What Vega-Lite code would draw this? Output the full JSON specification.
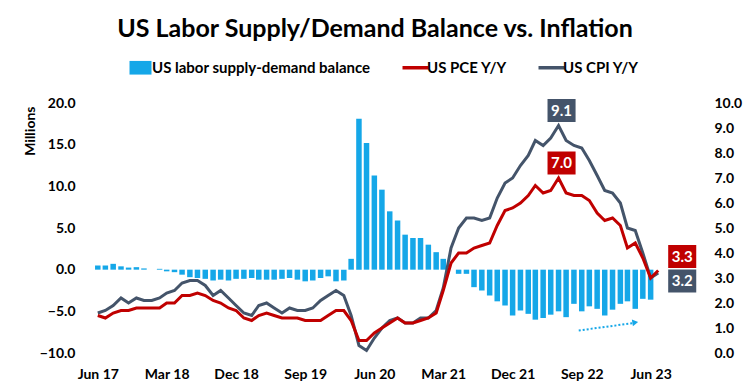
{
  "$schema": "https://vega.github.io/schema/vega-lite/v6.json",
  "width": 578,
  "height": 250,
  "autosize": {"type": "none"},
  "padding": {"left": 89, "top": 103, "right": 87, "bottom": 38},
  "background": "white",
  "config": {
    "font": "Lato",
    "view": {"stroke": null},
    "axisY": {"grid": false, "domain": false, "ticks": false, "labelOverlap": false, "labelFont": "Lato", "labelFontSize": 14, "labelFontWeight": "bold", "labelColor": "#000000"}
  },
  "title": {"text": "US Labor Supply/Demand Balance vs. Inflation", "font": "Lato", "fontSize": 25, "fontWeight": "bold", "color": "#000000", "anchor": "middle", "frame": "group", "dx": -3, "offset": 18},
  "datasets": {
    "main": [
      {"date": "2017-06-01", "balance": 0.5, "pce": 1.5, "cpi": 1.6},
      {"date": "2017-07-01", "balance": 0.5, "pce": 1.4, "cpi": 1.7},
      {"date": "2017-08-01", "balance": 0.7, "pce": 1.6, "cpi": 1.9},
      {"date": "2017-09-01", "balance": 0.4, "pce": 1.7, "cpi": 2.2},
      {"date": "2017-10-01", "balance": 0.25, "pce": 1.7, "cpi": 2.0},
      {"date": "2017-11-01", "balance": 0.3, "pce": 1.8, "cpi": 2.2},
      {"date": "2017-12-01", "balance": 0.15, "pce": 1.8, "cpi": 2.1},
      {"date": "2018-01-01", "balance": 0.0, "pce": 1.8, "cpi": 2.1},
      {"date": "2018-02-01", "balance": 0.1, "pce": 1.8, "cpi": 2.2},
      {"date": "2018-03-01", "balance": -0.2, "pce": 2.0, "cpi": 2.4},
      {"date": "2018-04-01", "balance": -0.3, "pce": 2.0, "cpi": 2.5},
      {"date": "2018-05-01", "balance": -0.6, "pce": 2.3, "cpi": 2.8},
      {"date": "2018-06-01", "balance": -0.9, "pce": 2.3, "cpi": 2.9},
      {"date": "2018-07-01", "balance": -1.0, "pce": 2.4, "cpi": 2.9},
      {"date": "2018-08-01", "balance": -1.1, "pce": 2.3, "cpi": 2.7},
      {"date": "2018-09-01", "balance": -1.3, "pce": 2.1, "cpi": 2.3},
      {"date": "2018-10-01", "balance": -1.2, "pce": 2.0, "cpi": 2.5},
      {"date": "2018-11-01", "balance": -1.3, "pce": 1.8, "cpi": 2.2},
      {"date": "2018-12-01", "balance": -1.1, "pce": 1.7, "cpi": 1.9},
      {"date": "2019-01-01", "balance": -1.1, "pce": 1.4, "cpi": 1.6},
      {"date": "2019-02-01", "balance": -1.0, "pce": 1.3, "cpi": 1.5},
      {"date": "2019-03-01", "balance": -1.2, "pce": 1.5, "cpi": 1.9},
      {"date": "2019-04-01", "balance": -1.2, "pce": 1.6, "cpi": 2.0},
      {"date": "2019-05-01", "balance": -1.2, "pce": 1.5, "cpi": 1.8},
      {"date": "2019-06-01", "balance": -1.1, "pce": 1.4, "cpi": 1.6},
      {"date": "2019-07-01", "balance": -1.0, "pce": 1.4, "cpi": 1.8},
      {"date": "2019-08-01", "balance": -1.2, "pce": 1.4, "cpi": 1.7},
      {"date": "2019-09-01", "balance": -1.4, "pce": 1.3, "cpi": 1.7},
      {"date": "2019-10-01", "balance": -1.3, "pce": 1.3, "cpi": 1.8},
      {"date": "2019-11-01", "balance": -1.0, "pce": 1.3, "cpi": 2.1},
      {"date": "2019-12-01", "balance": -0.8, "pce": 1.5, "cpi": 2.3},
      {"date": "2020-01-01", "balance": -1.4, "pce": 1.7, "cpi": 2.5},
      {"date": "2020-02-01", "balance": -1.3, "pce": 1.7, "cpi": 2.3},
      {"date": "2020-03-01", "balance": 1.3, "pce": 1.3, "cpi": 1.5},
      {"date": "2020-04-01", "balance": 18.1, "pce": 0.5, "cpi": 0.3},
      {"date": "2020-05-01", "balance": 15.2, "pce": 0.5, "cpi": 0.1},
      {"date": "2020-06-01", "balance": 11.3, "pce": 0.8, "cpi": 0.6},
      {"date": "2020-07-01", "balance": 9.6, "pce": 1.0, "cpi": 1.0},
      {"date": "2020-08-01", "balance": 7.0, "pce": 1.2, "cpi": 1.3},
      {"date": "2020-09-01", "balance": 5.9, "pce": 1.4, "cpi": 1.4},
      {"date": "2020-10-01", "balance": 4.2, "pce": 1.2, "cpi": 1.2},
      {"date": "2020-11-01", "balance": 3.8, "pce": 1.2, "cpi": 1.2},
      {"date": "2020-12-01", "balance": 3.8, "pce": 1.3, "cpi": 1.4},
      {"date": "2021-01-01", "balance": 3.0, "pce": 1.4, "cpi": 1.4},
      {"date": "2021-02-01", "balance": 2.1, "pce": 1.6, "cpi": 1.7},
      {"date": "2021-03-01", "balance": 1.3, "pce": 2.5, "cpi": 2.6},
      {"date": "2021-04-01", "balance": 0.0, "pce": 3.6, "cpi": 4.2},
      {"date": "2021-05-01", "balance": -0.5, "pce": 4.0, "cpi": 5.0},
      {"date": "2021-06-01", "balance": -0.5, "pce": 4.0, "cpi": 5.4},
      {"date": "2021-07-01", "balance": -2.1, "pce": 4.2, "cpi": 5.4},
      {"date": "2021-08-01", "balance": -2.5, "pce": 4.3, "cpi": 5.3},
      {"date": "2021-09-01", "balance": -3.1, "pce": 4.4, "cpi": 5.4},
      {"date": "2021-10-01", "balance": -3.8, "pce": 5.1, "cpi": 6.2},
      {"date": "2021-11-01", "balance": -4.3, "pce": 5.7, "cpi": 6.8},
      {"date": "2021-12-01", "balance": -5.5, "pce": 5.8, "cpi": 7.0},
      {"date": "2022-01-01", "balance": -4.9, "pce": 6.0, "cpi": 7.5},
      {"date": "2022-02-01", "balance": -5.3, "pce": 6.3, "cpi": 7.9},
      {"date": "2022-03-01", "balance": -6.0, "pce": 6.7, "cpi": 8.5},
      {"date": "2022-04-01", "balance": -5.8, "pce": 6.4, "cpi": 8.3},
      {"date": "2022-05-01", "balance": -5.4, "pce": 6.5, "cpi": 8.6},
      {"date": "2022-06-01", "balance": -5.0, "pce": 7.0, "cpi": 9.1},
      {"date": "2022-07-01", "balance": -5.7, "pce": 6.4, "cpi": 8.5},
      {"date": "2022-08-01", "balance": -4.1, "pce": 6.3, "cpi": 8.3},
      {"date": "2022-09-01", "balance": -5.0, "pce": 6.3, "cpi": 8.2},
      {"date": "2022-10-01", "balance": -4.4, "pce": 6.1, "cpi": 7.7},
      {"date": "2022-11-01", "balance": -4.7, "pce": 5.6, "cpi": 7.1},
      {"date": "2022-12-01", "balance": -5.5, "pce": 5.3, "cpi": 6.5},
      {"date": "2023-01-01", "balance": -4.8, "pce": 5.4, "cpi": 6.4},
      {"date": "2023-02-01", "balance": -4.1, "pce": 5.1, "cpi": 6.0},
      {"date": "2023-03-01", "balance": -3.8, "pce": 4.2, "cpi": 5.0},
      {"date": "2023-04-01", "balance": -4.7, "pce": 4.4, "cpi": 4.9},
      {"date": "2023-05-01", "balance": -3.5, "pce": 3.8, "cpi": 4.0},
      {"date": "2023-06-01", "balance": -3.6, "pce": 3.0, "cpi": 3.0},
      {"date": "2023-07-01", "balance": null, "pce": 3.3, "cpi": 3.2}
    ],
    "arrow": [
      {"date": "2022-08-20", "v": -7.3},
      {"date": "2023-03-26", "v": -6.4}
    ],
    "arrowhead": [
      {"date": "2023-04-01", "v": -6.33}
    ],
    "labels": [
      {"date": "2022-06-01", "v": 9.1, "t": "9.1", "s": "cpi"},
      {"date": "2022-06-01", "v": 7.0, "t": "7.0", "s": "pce"},
      {"date": "2023-07-01", "v": 3.3, "t": "3.3", "s": "pce"},
      {"date": "2023-07-01", "v": 3.2, "t": "3.2", "s": "cpi"}
    ]
  },
  "encoding": {
    "x": {
      "field": "date", "type": "temporal",
      "scale": {"type": "utc", "domain": [{"year": 2017, "month": 5, "date": 17, "utc": true}, {"year": 2023, "month": 7, "date": 16, "utc": true}]},
      "axis": {
        "values": [
          {"year": 2017, "month": 6, "date": 1, "utc": true},
          {"year": 2018, "month": 3, "date": 1, "utc": true},
          {"year": 2018, "month": 12, "date": 1, "utc": true},
          {"year": 2019, "month": 9, "date": 1, "utc": true},
          {"year": 2020, "month": 6, "date": 1, "utc": true},
          {"year": 2021, "month": 3, "date": 1, "utc": true},
          {"year": 2021, "month": 12, "date": 1, "utc": true},
          {"year": 2022, "month": 9, "date": 1, "utc": true},
          {"year": 2023, "month": 6, "date": 1, "utc": true}
        ],
        "labelExpr": "utcFormat(datum.value, '%b %y')",
        "title": null, "domain": false, "ticks": false, "grid": false,
        "labelFont": "Lato", "labelFontSize": 14, "labelFontWeight": "bold", "labelColor": "#000000",
        "labelPadding": 14, "labelFlush": false, "labelOverlap": false
      }
    }
  },
  "layer": [
    {
      "layer": [
        {
          "data": {"name": "main"},
          "mark": {"type": "rule", "color": "#D9D9D9", "strokeWidth": 1},
          "encoding": {"y": {"datum": 0, "type": "quantitative"}}
        },
        {
          "data": {"name": "main"},
          "mark": {"type": "bar", "size": 5.5},
          "encoding": {
            "y": {
              "field": "balance", "type": "quantitative",
              "scale": {"domain": [-10, 20], "nice": false, "zero": false},
              "axis": {
                "orient": "left", "values": [-10, -5, 0, 5, 10, 15, 20], "format": ".1f", "labelPadding": 14,
                "title": "Millions", "titleFont": "Lato", "titleFontSize": 14, "titleFontWeight": "bold", "titleColor": "#000000",
                "titleAngle": -90, "titleX": -59, "titleY": 3, "titleAlign": "right", "titleBaseline": "middle"
              }
            },
            "color": {
              "datum": "US labor supply-demand balance", "type": "nominal",
              "scale": {"domain": ["US labor supply-demand balance", "US PCE Y/Y", "US CPI Y/Y"], "range": ["#15A7E8", "#C00000", "#44546A"]},
              "legend": {
                "orient": "none", "legendX": 44, "legendY": -43, "direction": "horizontal", "title": null,
                "labelFont": "Lato", "labelFontSize": 15, "labelFontWeight": "bold", "labelColor": "#000000", "labelLimit": 400,
                "columnPadding": 24, "symbolSize": 500, "labelOffset": 4,
                "encode": {
                  "symbols": {
                    "update": {
                      "shape": {"signal": "datum.value == 'US labor supply-demand balance' ? 'M-1,-0.62H1V0.62H-1Z' : 'stroke'"},
                      "size": {"signal": "datum.value == 'US labor supply-demand balance' ? 484 : 676"},
                      "fill": {"scale": "color", "field": "value"},
                      "stroke": {"scale": "color", "field": "value"},
                      "strokeWidth": {"signal": "datum.value == 'US labor supply-demand balance' ? 0 : 3.5"},
                      "opacity": {"value": 1},
                      "fillOpacity": {"value": 1},
                      "strokeOpacity": {"value": 1}
                    }
                  }
                }
              }
            }
          }
        },
        {
          "data": {"name": "arrow"},
          "mark": {"type": "line", "color": "#15A7E8", "strokeWidth": 2, "strokeDash": [2, 2]},
          "encoding": {"y": {"field": "v", "type": "quantitative"}}
        },
        {
          "data": {"name": "arrowhead"},
          "mark": {"type": "point", "shape": "triangle-right", "filled": true, "color": "#15A7E8", "size": 45, "angle": -9, "opacity": 1},
          "encoding": {"y": {"field": "v", "type": "quantitative"}}
        }
      ]
    },
    {
      "layer": [
        {
          "data": {"name": "main"},
          "mark": {"type": "line", "strokeWidth": 3},
          "encoding": {
            "y": {
              "field": "cpi", "type": "quantitative",
              "scale": {"domain": [0, 10], "nice": false, "zero": false},
              "axis": {"orient": "right", "values": [0, 1, 2, 3, 4, 5, 6, 7, 8, 9, 10], "format": ".1f", "labelPadding": 47, "title": null}
            },
            "color": {"datum": "US CPI Y/Y", "type": "nominal"}
          }
        },
        {
          "data": {"name": "main"},
          "mark": {"type": "line", "strokeWidth": 3},
          "encoding": {
            "y": {"field": "pce", "type": "quantitative", "axis": {"orient": "right", "values": [0, 1, 2, 3, 4, 5, 6, 7, 8, 9, 10], "format": ".1f", "labelPadding": 47, "title": null}},
            "color": {"datum": "US PCE Y/Y", "type": "nominal"}
          }
        },
        {
          "data": {"name": "labels"},
          "transform": [{"filter": "datum.t == '9.1' || datum.t == '7.0'"}],
          "mark": {"type": "point", "shape": "M-1.22,-1H1.22V1H-1.22Z", "size": 529, "filled": true, "opacity": 1, "yOffset": -15, "xOffset": 3},
          "encoding": {
            "y": {"field": "v", "type": "quantitative", "axis": {"orient": "right", "values": [0, 1, 2, 3, 4, 5, 6, 7, 8, 9, 10], "format": ".1f", "labelPadding": 47, "title": null}},
            "color": {"condition": {"test": "datum.s == 'cpi'", "value": "#44546A"}, "value": "#C00000"}
          }
        },
        {
          "data": {"name": "labels"},
          "transform": [{"filter": "datum.t == '9.1' || datum.t == '7.0'"}],
          "mark": {"type": "text", "font": "Lato", "fontSize": 15, "fontWeight": "bold", "color": "white", "align": "center", "baseline": "middle", "dy": -15, "dx": 3},
          "encoding": {"y": {"field": "v", "type": "quantitative", "axis": {"orient": "right", "values": [0, 1, 2, 3, 4, 5, 6, 7, 8, 9, 10], "format": ".1f", "labelPadding": 47, "title": null}}, "text": {"field": "t"}}
        },
        {
          "data": {"name": "labels"},
          "transform": [{"filter": "datum.t == '3.3'"}],
          "mark": {"type": "point", "shape": "M-1.22,-1H1.22V1H-1.22Z", "size": 529, "filled": true, "opacity": 1, "yOffset": -14, "xOffset": 24, "color": "#C00000", "clip": false},
          "encoding": {"y": {"field": "v", "type": "quantitative", "axis": {"orient": "right", "values": [0, 1, 2, 3, 4, 5, 6, 7, 8, 9, 10], "format": ".1f", "labelPadding": 47, "title": null}}}
        },
        {
          "data": {"name": "labels"},
          "transform": [{"filter": "datum.t == '3.3'"}],
          "mark": {"type": "text", "font": "Lato", "fontSize": 15, "fontWeight": "bold", "color": "white", "align": "center", "baseline": "middle", "dy": -14, "dx": 24},
          "encoding": {"y": {"field": "v", "type": "quantitative", "axis": {"orient": "right", "values": [0, 1, 2, 3, 4, 5, 6, 7, 8, 9, 10], "format": ".1f", "labelPadding": 47, "title": null}}, "text": {"field": "t"}}
        },
        {
          "data": {"name": "labels"},
          "transform": [{"filter": "datum.t == '3.2'"}],
          "mark": {"type": "point", "shape": "M-1.22,-1H1.22V1H-1.22Z", "size": 529, "filled": true, "opacity": 1, "yOffset": 8, "xOffset": 24, "color": "#44546A", "clip": false},
          "encoding": {"y": {"field": "v", "type": "quantitative", "axis": {"orient": "right", "values": [0, 1, 2, 3, 4, 5, 6, 7, 8, 9, 10], "format": ".1f", "labelPadding": 47, "title": null}}}
        },
        {
          "data": {"name": "labels"},
          "transform": [{"filter": "datum.t == '3.2'"}],
          "mark": {"type": "text", "font": "Lato", "fontSize": 15, "fontWeight": "bold", "color": "white", "align": "center", "baseline": "middle", "dy": 8, "dx": 24},
          "encoding": {"y": {"field": "v", "type": "quantitative", "axis": {"orient": "right", "values": [0, 1, 2, 3, 4, 5, 6, 7, 8, 9, 10], "format": ".1f", "labelPadding": 47, "title": null}}, "text": {"field": "t"}}
        }
      ]
    }
  ],
  "resolve": {"scale": {"y": "independent"}, "axis": {"y": "independent"}}
}
